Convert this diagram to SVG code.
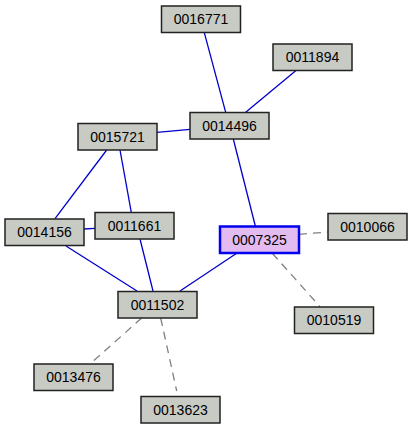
<svg xmlns="http://www.w3.org/2000/svg" width="412" height="429" viewBox="0 0 412 429">
<style>
.n rect{fill:#c8cac4;stroke:#222;stroke-width:1.5}
.n text{font-family:"Liberation Sans",Arial,sans-serif;font-size:14px;fill:#000;text-anchor:middle}
.e line{stroke:#0000cc;stroke-width:1.3}
.e line.d{stroke:#808080;stroke-dasharray:8,6}
#n0007325 rect{fill:#e3bbf0;stroke:#0000ee;stroke-width:2.5}
</style>
<rect width="412" height="429" fill="#fff"/>
<g class="e" id="edges">
<line x1="204.3" y1="32.7" x2="225.7" y2="112.3"/>
<line x1="295.7" y1="70.7" x2="245.7" y2="112.3"/>
<line x1="157" y1="132.3" x2="190" y2="129.3"/>
<line x1="233.3" y1="139" x2="255.3" y2="226"/>
<line x1="106.7" y1="150" x2="55" y2="218.7"/>
<line x1="120" y1="150" x2="131.3" y2="212.3"/>
<line x1="84" y1="229" x2="95" y2="228.3"/>
<line x1="66" y1="246" x2="137" y2="291"/>
<line x1="140" y1="239" x2="153" y2="291"/>
<line x1="236.7" y1="253.3" x2="180" y2="291"/>
<line class="d" x1="299" y1="234.3" x2="327.7" y2="232"/>
<line class="d" x1="272.3" y1="253.3" x2="320" y2="306.7"/>
<line class="d" x1="141.7" y1="318" x2="90" y2="364"/>
<line class="d" x1="160.7" y1="318" x2="176.7" y2="391"/>
</g>
<g class="n" id="n0016771"><rect x="161.5" y="6" width="79" height="26.5"/><text x="201" y="24">0016771</text></g>
<g class="n" id="n0011894"><rect x="273" y="44" width="79" height="26.5"/><text x="312.5" y="62">0011894</text></g>
<g class="n" id="n0014496"><rect x="190" y="112.5" width="79" height="26.5"/><text x="229.5" y="130.5">0014496</text></g>
<g class="n" id="n0015721"><rect x="78" y="123.5" width="79" height="26.5"/><text x="117.5" y="141.5">0015721</text></g>
<g class="n" id="n0014156"><rect x="5" y="219" width="79" height="26.5"/><text x="44.5" y="237">0014156</text></g>
<g class="n" id="n0011661"><rect x="95" y="212.5" width="79" height="26.5"/><text x="134.5" y="230.5">0011661</text></g>
<g class="n" id="n0007325"><rect x="220" y="226.5" width="79" height="26.5"/><text x="259.5" y="244.5">0007325</text></g>
<g class="n" id="n0010066"><rect x="328" y="213.5" width="79" height="26.5"/><text x="367.5" y="231.5">0010066</text></g>
<g class="n" id="n0010519"><rect x="294.5" y="307" width="79" height="26.5"/><text x="334" y="325">0010519</text></g>
<g class="n" id="n0011502"><rect x="118" y="291.5" width="79" height="26.5"/><text x="157.5" y="309.5">0011502</text></g>
<g class="n" id="n0013476"><rect x="34" y="364" width="79" height="26.5"/><text x="73.5" y="382">0013476</text></g>
<g class="n" id="n0013623"><rect x="141" y="396.5" width="79" height="26.5"/><text x="180.5" y="414.5">0013623</text></g>
</svg>
